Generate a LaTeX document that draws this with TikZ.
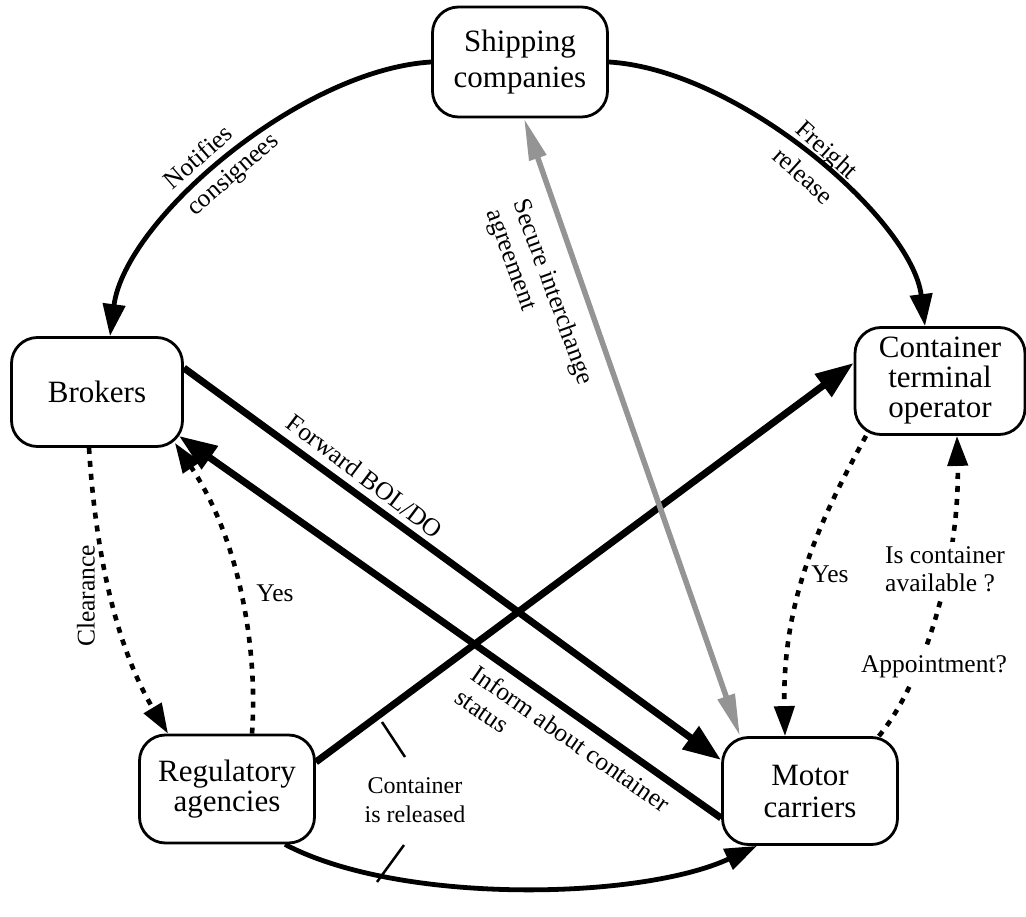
\documentclass[tikz,border=0pt]{standalone}
\usepackage{fontspec}
\setmainfont{Liberation Serif}
\usetikzlibrary{arrows.meta}
\begin{document}
\begin{tikzpicture}[x=1pt,y=-1pt,
  party/.style={draw, line width=2.8pt, rounded corners=26pt, align=center,
    inner sep=0pt, font=\fontsize{31}{32}\selectfont},
  flow/.style={line width=4.8pt, -{Triangle[length=32pt,width=22pt]}},
  bold/.style={line width=7pt, -{Triangle[length=38pt,width=27pt]}},
  dots/.style={line width=4.6pt, dash pattern=on 6pt off 7pt,
    -{Triangle[length=30pt,width=20pt]}},
  greyline/.style={line width=5.5pt, draw=black!42,
    {Triangle[length=42pt,width=17pt,fill=black!42]}-{Triangle[length=42pt,width=17pt,fill=black!42]}},
  lab/.style={font=\fontsize{25.5}{28}\selectfont, inner sep=1pt},
  tick/.style={line width=2.5pt}]
\useasboundingbox (0,0) rectangle (1026,917);

% parties
\node[party, minimum width=175pt, minimum height=110pt] (ship) at (520,62) {Shipping\\[4pt]companies};
\node[party, minimum width=171pt, minimum height=109pt] (brk) at (97,392) {Brokers};
\node[party, minimum width=170pt, minimum height=107pt] (cto) at (940,381) {Container\\[-2pt]terminal\\[-2pt]operator};
\node[party, minimum width=175pt, minimum height=108pt] (reg) at (227,789) {Regulatory\\[-2pt]agencies};
\node[party, minimum width=175pt, minimum height=107pt] (mot) at (810,791) {Motor\\carriers};

% outer circle
\draw[flow] (ship.west) .. controls (300,70) and (125,220) .. ([xshift=13pt]brk.north);
\draw[flow] (ship.east) .. controls (740,70) and (912,220) .. ([xshift=-15pt]cto.north);
\draw[flow] ([xshift=58pt]reg.south) .. controls (400,905) and (640,900) .. ([xshift=-53pt]mot.south);

% document flows across the middle
\draw[bold] ([yshift=24pt]brk.east) -- ([yshift=31pt]mot.west);
\draw[bold] ([yshift=-27pt]mot.west) -- ([xshift=-5pt,yshift=12pt]brk.south east);
\draw[bold] ([yshift=27pt]reg.east) -- ([yshift=18pt]cto.west);
\draw[greyline] ([xshift=4pt]ship.south) -- ([xshift=-70pt]mot.north);

% queries and answers
\draw[dots] ([xshift=-8pt]brk.south) .. controls (96,560) and (118,650) .. ([xshift=-59pt]reg.north);
\draw[dots] ([xshift=25pt]reg.north) .. controls (258,650) and (240,540) .. ([xshift=-9pt,yshift=5pt]brk.south east);
\draw[dots] ([xshift=-74pt]cto.south) .. controls (820,520) and (782,600) .. ([xshift=-25pt]mot.north);
\draw[dots] ([xshift=-20pt]mot.north east) .. controls (925,680) and (960,560) .. ([xshift=17pt]cto.south);

% labels
\node[lab, rotate=41, align=left] (lnot) at (222,162) {Notifies\\[7pt]consignees};
\node[lab, rotate=-42, align=center] (lfre) at (815.5,162.5) {Freight\\[7pt]release};
\node[lab, rotate=-70, align=left] (lsec) at (539,297) {Secure interchange\\agreement};
\node[lab, rotate=-37] (lfwd) at (365,476) {Forward BOL/DO};
\node[lab, rotate=-35, align=left] (linf) at (563,750) {Inform about container\\status};
\node[lab, rotate=90] (lclr) at (86,596) {Clearance};
\node[lab] (lyes1) at (275,593) {Yes};
\node[lab] (lyes2) at (830,574) {Yes};
\node[lab, fill=white, align=left, inner sep=4pt] (lavl) at (945,569) {Is container\\available ?};
\node[lab, fill=white, inner sep=6pt] (lapp) at (934,667) {Appointment?};
\node[lab, font=\fontsize{24}{29}\selectfont, align=center] (lrel) at (415,800) {Container\\is released};

% ticks tying the release label to the lower arc
\coordinate (t1a) at (382,722);
\coordinate (t1b) at (405,757);
\coordinate (t2a) at (404,845);
\coordinate (t2b) at (377,882);
\draw[tick] (t1a) -- (t1b);
\draw[tick] (t2a) -- (t2b);
\end{tikzpicture}
\end{document}
